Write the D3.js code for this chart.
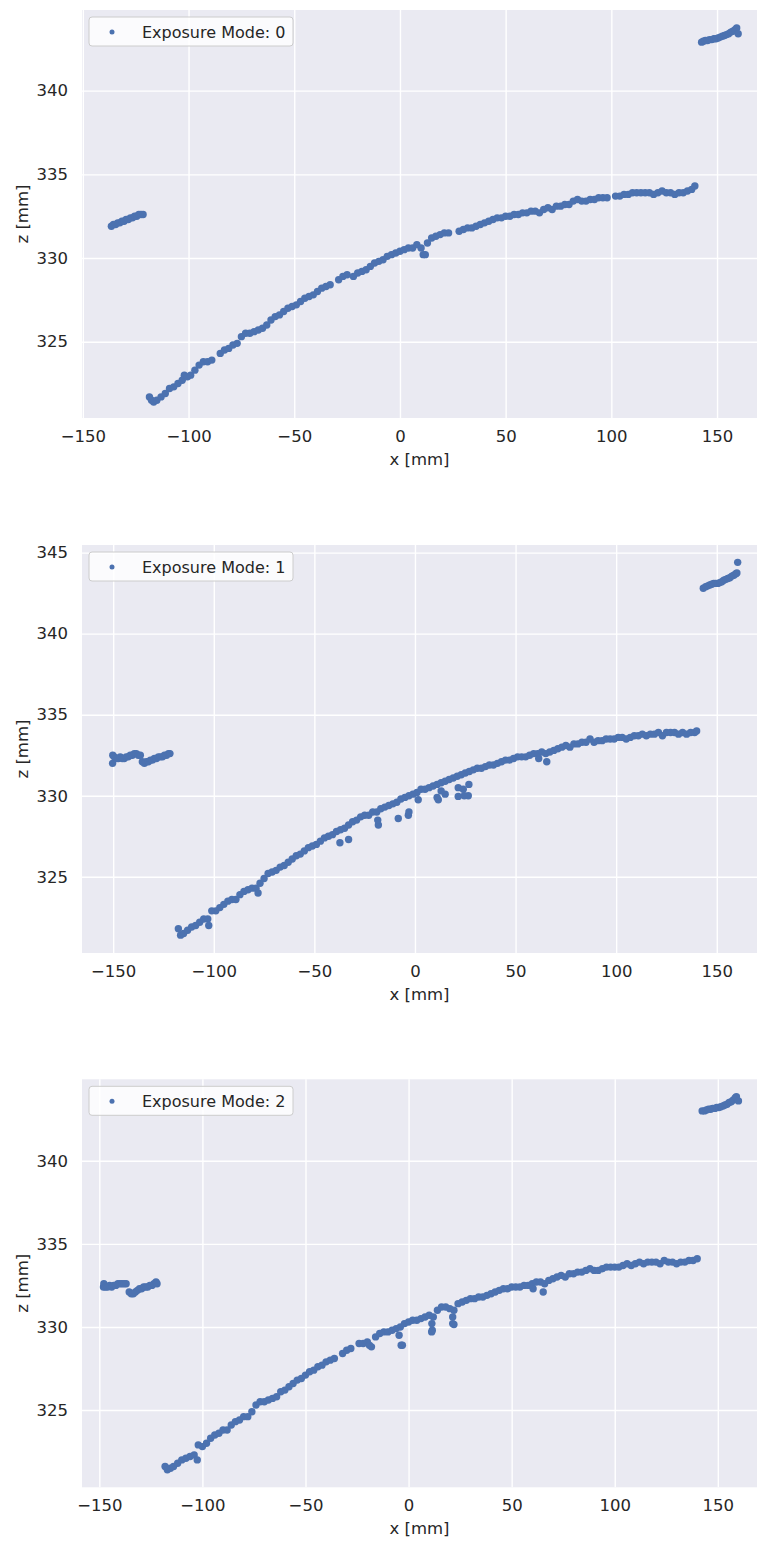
<!DOCTYPE html>
<html>
<head>
<meta charset="utf-8">
<script src="https://cdn.jsdelivr.net/npm/d3@7"></script>
<style>
  body { margin: 0; background: #fff; }
  svg { display: block; font-family: "DejaVu Sans", sans-serif; }
</style>
</head>
<body>
<script>
// DATA (x [mm], z [mm])
const modes = [0, 1, 2];
const xTicks = [-150, -100, -50, 0, 50, 100, 150];
const zTicks = [325, 330, 335, 340, 345];
const xLimits = [[-150.4, 168.9], [-165.5, 170], [-158.4, 169]];
const zLimits = [[320.44, 344.82], [320.3, 345.47], [320.35, 344.9]];

const mode0Left = [[-136.5,331.9],[-135.5,332.0],[-134.5,332.0],[-133.5,332.1],[-132.5,332.1],[-131.5,332.2],[-130.5,332.2],[-129.5,332.3],[-128.5,332.3],[-127.5,332.4],[-126.5,332.4],[-125.5,332.5],[-124.5,332.5],[-123.5,332.6],[-122.5,332.6],[-121.5,332.6]];
const mode0Main = [[-118.5,321.7],[-117.5,321.5],[-116.5,321.4],[-115,321.5],[-113,321.7],[-111,321.9],[-109,322.2],[-107,322.3],[-105,322.5],[-103,322.7],[-102,323.0],[-100.5,322.9],[-99,323.0],[-97,323.3],[-95,323.6],[-93,323.8],[-91,323.8],[-89,323.9],
  [-85,324.3],[-83,324.5],[-81,324.6],[-79,324.8],[-77,324.9],[-75,325.3],[-73,325.5],[-71,325.5],[-69,325.6],[-67,325.7],[-65,325.8],[-63,326.0],[-61,326.3],[-59,326.5],[-57,326.6],[-55,326.8],[-53,327.0],[-51,327.1],[-49,327.2],[-47,327.4],[-45,327.6],[-43,327.7],[-41,327.8],[-39,328.0],[-37,328.2],[-35,328.3],[-33,328.4],
  [-29,328.7],[-27,328.9],[-25,329.0],[-22,328.9],[-20,329.1],[-18,329.2],[-16,329.3],[-14,329.5],[-12,329.7],[-10,329.8],[-8,329.9],[-6,330.1],[-4,330.2],[-2,330.3],[0,330.4],[2,330.5],[4,330.6],[6,330.6],[8,330.8],[10,330.6],[11,330.2],[12,330.2],[13,330.9],[15,331.2],[17,331.3],[19,331.4],[21,331.5],[23,331.5],
  [28,331.6],[30,331.7],[32,331.8],[34,331.8],[36,331.9],[38,332.0],[40,332.1],[42,332.2],[44,332.3],[46,332.4],[48,332.4],[50,332.5],[52,332.5],[54,332.6],[56,332.6],[58,332.7],[60,332.7],[62,332.8],[64,332.8],[66,332.7],[68,332.9],[70,333.0],[72,332.9],[74,333.1],[76,333.1],[78,333.2],[80,333.2],[82,333.4],[84,333.5],[86,333.4],[88,333.4],[90,333.5],[92,333.5],[94,333.6],[96,333.6],[98,333.6],
  [102,333.7],[104,333.7],[106,333.8],[108,333.8],[110,333.9],[112,333.9],[114,333.9],[116,333.9],[118,333.9],[120,333.8],[122,333.9],[124,334.0],[126,333.9],[128,333.9],[130,333.8],[132,333.9],[134,333.9],[136,334.0],[138,334.1],[139.5,334.3]];
const mode0Right = [[142.7,342.9],[143.5,342.95],[144.5,343.0],[145.5,343.0],[146.5,343.05],[147.5,343.05],[148.5,343.1],[149.5,343.1],[150.5,343.15],[151.5,343.2],[152.5,343.25],[153.5,343.3],[154.5,343.35],[155.5,343.4],[156.5,343.5],[157.5,343.55],[158.5,343.65],[159.3,343.75],[160,343.4]];

const mode1Left = [[-150.3,332.0],[-150.2,332.5],[-149.5,332.4],[-148.5,332.3],[-147.5,332.3],[-146.5,332.4],[-145.5,332.3],[-144.5,332.3],[-143.5,332.4],[-142.5,332.4],[-141.5,332.5],[-140.5,332.5],[-139.5,332.6],[-138.5,332.6],[-137.5,332.5],[-136.5,332.5],[-135.5,332.1],[-134.5,332.0],[-133.5,332.1],[-132.5,332.1],[-131.5,332.2],[-130.5,332.2],[-129.5,332.3],[-128.5,332.3],[-127.5,332.4],[-126.5,332.4],[-125.5,332.4],[-124.5,332.5],[-123.5,332.5],[-122.5,332.6],[-121.8,332.6]];
const mode1Main = [[-117.6,321.8],[-116.5,321.4],[-115,321.5],[-113,321.7],[-111,321.9],[-109,322.0],[-107,322.2],[-105,322.4],[-103,322.4],[-102.5,322.0],[-101,322.9],[-99,322.9],[-97,323.1],[-95,323.3],[-93,323.5],[-91,323.6],[-89,323.6],[-87,323.9],[-85,324.1],[-83,324.2],[-81,324.3],[-79,324.3],[-78,324.0],[-77,324.6],[-75,324.9],[-73,325.2],
  [-71,325.3],[-69,325.4],[-67,325.6],[-65,325.7],[-63,325.9],[-61,326.1],[-59,326.3],[-57,326.4],[-55,326.6],[-53,326.8],[-51,326.9],[-49,327.0],[-47,327.2],[-45,327.4],[-43,327.5],[-41,327.6],[-39,327.8],[-37.3,327.1],[-37,327.9],[-35,328.0],[-33,328.2],[-33,327.3],[-31,328.4],[-29,328.5],[-27,328.7],[-25,328.8],[-23,328.8],[-21,329.0],[-19,329.0],[-18.2,328.2],[-18.5,328.5],
  [-17,329.2],[-15,329.3],[-13,329.4],[-11,329.5],[-9,329.6],[-8.3,328.6],[-7,329.8],[-3.3,328.8],[-3,329.0],[-5,329.9],[-3,330.0],[-1,330.1],[1,330.2],[1.6,329.75],[3,330.4],[5,330.4],[7,330.5],[9,330.6],[11,330.7],[11.6,329.75],[11,329.9],[15,330.1],[13,330.3],[13,330.8],[15,330.9],[17,331.0],[19,331.1],[21,331.2],
  [21.5,329.96],[26.5,330.0],[26.8,330.7],[21.5,330.5],[24,330.4],[24.5,330.0],[23,331.3],[25,331.4],[27,331.5],[29,331.6],[31,331.7],[33,331.7],[35,331.8],[37,331.9],[39,331.9],[41,332.0],[43,332.1],[45,332.2],[47,332.2],[49,332.3],[51,332.4],[53,332.4],[55,332.4],[57,332.5],[59,332.6],[61,332.6],[63,332.7],[61.5,332.3],[65.5,332.1],
  [65,332.6],[67,332.7],[69,332.8],[71,332.9],[73,333.0],[75,333.1],[77,333.0],[79,333.2],[81,333.2],[83,333.3],[85,333.3],[87,333.5],[89,333.3],[91,333.4],[93,333.4],[95,333.5],[97,333.5],[99,333.5],[101,333.6],[103,333.6],[105,333.5],[107,333.6],[109,333.7],[111,333.7],[113,333.8],[115,333.7],[117,333.8],[119,333.8],[121,333.9],[123,333.7],[125,333.9],[127,333.9],[129,333.9],[131,333.8],[133,333.9],[135,333.8],[137,333.9],[139,333.9],[140,334.0]];
const mode1Right = [[143.3,342.8],[144.5,342.9],[145.5,342.95],[146.5,343.0],[147.5,343.05],[148.5,343.1],[149.5,343.1],[150.5,343.1],[151.5,343.15],[152.5,343.2],[153.5,343.3],[154.5,343.35],[155.5,343.4],[156.5,343.45],[157.5,343.55],[158.5,343.6],[159.5,343.7],[160,343.75],[160.4,344.4]];

const mode2Left = [[-148,332.4],[-147.8,332.6],[-147,332.4],[-146,332.4],[-145,332.5],[-144,332.4],[-143,332.5],[-142,332.5],[-141,332.6],[-140,332.6],[-139,332.6],[-138,332.6],[-137,332.6],[-135.5,332.1],[-134.5,332.0],[-133.5,332.0],[-132.5,332.1],[-131.5,332.2],[-130.5,332.3],[-129.5,332.3],[-128.5,332.4],[-127.5,332.4],[-126.5,332.4],[-125.5,332.5],[-124.5,332.5],[-123.5,332.6],[-122.5,332.7],[-122,332.6]];
const mode2Main = [[-118.1,321.6],[-117,321.4],[-115.5,321.5],[-114,321.6],[-112,321.8],[-110,322.0],[-108,322.1],[-106,322.2],[-104,322.3],[-102.5,322.0],[-102,322.9],[-100,322.8],[-98,323.0],[-96,323.3],[-94,323.5],[-92,323.6],[-90,323.8],[-88,323.8],[-86,324.1],[-84,324.3],[-82,324.4],[-80,324.6],[-78,324.6],[-76,324.9],[-74,325.3],[-72,325.5],
  [-70,325.5],[-68,325.6],[-66,325.7],[-64,325.8],[-62,326.1],[-60,326.2],[-58,326.4],[-56,326.6],[-54,326.8],[-52,326.9],[-50,327.1],[-48,327.3],[-46,327.4],[-44,327.6],[-42,327.7],[-40,327.9],[-38,328.0],[-36,328.1],[-32,328.4],[-30,328.6],[-28,328.7],[-24,329.0],[-22,329.0],[-20,329.1],[-19,328.9],[-18,328.8],
  [-16,329.4],[-14,329.6],[-12,329.7],[-10,329.7],[-8,329.8],[-6,329.9],[-4.6,329.5],[-3.6,328.9],[-3,328.9],[-4,330.0],[-2,330.2],[0,330.3],[2,330.4],[4,330.4],[6,330.5],[8,330.6],[10,330.7],[11.3,330.2],[11.2,329.7],[11.5,329.8],[12,330.6],[14,331.0],[16,331.2],[18,331.2],[20,331.1],[21.4,330.6],[21.4,330.2],[22,330.15],
  [22,331.0],[24,331.4],[26,331.5],[28,331.6],[30,331.7],[32,331.7],[34,331.8],[36,331.8],[38,331.9],[40,332.0],[42,332.1],[44,332.2],[46,332.3],[48,332.3],[50,332.4],[52,332.4],[54,332.4],[56,332.5],[58,332.5],[60,332.6],[60.4,332.3],[65.3,332.1],[62,332.7],[64,332.7],[66,332.6],[68,332.8],[70,332.9],[72,333.0],[74,333.1],[76,333.0],[78,333.2],[80,333.2],
  [82,333.3],[84,333.3],[86,333.4],[88,333.5],[90,333.4],[92,333.4],[94,333.5],[96,333.6],[98,333.6],[100,333.6],[102,333.6],[104,333.7],[106,333.8],[108,333.7],[110,333.8],[112,333.9],[114,333.8],[116,333.9],[118,333.9],[120,333.9],[122,333.8],[124,334.0],[126,333.9],[128,333.9],[130,333.8],[132,333.9],[134,333.9],[136,334.0],[138,334.0],[140,334.1]];
const mode2Right = [[142.4,343.0],[143.5,343.0],[144.5,343.05],[145.5,343.1],[146.5,343.1],[147.5,343.15],[148.5,343.15],[149.5,343.2],[150.5,343.2],[151.5,343.25],[152.5,343.3],[153.5,343.35],[154.5,343.4],[155.5,343.5],[156.5,343.55],[157.5,343.65],[158.5,343.8],[159,343.85],[160,343.6]];

const modePoints = [
  mode0Left.concat(mode0Main, mode0Right),
  mode1Left.concat(mode1Main, mode1Right),
  mode2Left.concat(mode2Main, mode2Right)
];

// LAYOUT
const WIDTH = 757;
const HEIGHT = 1542;
const LEFT = 82;
const RIGHT = 757;
const PANEL_HEIGHT = 408;
const PANEL_TOPS = [10, 545, 1079.3];
const BLUE = '#4c72b0';
const TEXT = '#262626';

const svg = d3.select('body')
  .append('svg')
  .attr('width', WIDTH)
  .attr('height', HEIGHT);

modes.forEach(function(mode, i) {
  const top = PANEL_TOPS[i];
  const bottom = top + PANEL_HEIGHT;

  const x = d3.scaleLinear().domain(xLimits[i]).range([LEFT, RIGHT]);
  const y = d3.scaleLinear().domain(zLimits[i]).range([bottom, top]);

  const g = svg.append('g');

  // background
  g.append('rect')
    .attr('x', LEFT)
    .attr('y', top)
    .attr('width', RIGHT - LEFT)
    .attr('height', PANEL_HEIGHT)
    .attr('fill', '#eaeaf2');

  const xt = xTicks.filter(function(t) { return t >= xLimits[i][0] && t <= xLimits[i][1]; });
  const zt = zTicks.filter(function(t) { return t >= zLimits[i][0] && t <= zLimits[i][1]; });

  // grid + tick labels via axes
  const xAxis = d3.axisBottom(x)
    .tickValues(xt)
    .tickSize(-PANEL_HEIGHT)
    .tickPadding(12)
    .tickFormat(function(d) { return d < 0 ? '\u2212' + Math.abs(d) : d; });

  const yAxis = d3.axisLeft(y)
    .tickValues(zt)
    .tickSize(-(RIGHT - LEFT))
    .tickPadding(14);

  g.append('g')
    .attr('transform', 'translate(0,' + bottom + ')')
    .call(xAxis)
    .call(function(a) {
      a.select('.domain').remove();
      a.selectAll('line').attr('stroke', '#fff').attr('stroke-width', 1.4);
      a.selectAll('text').attr('fill', TEXT).attr('font-size', '16.5px').attr('font-family', '"DejaVu Sans", sans-serif');
    });

  g.append('g')
    .attr('transform', 'translate(' + LEFT + ',0)')
    .call(yAxis)
    .call(function(a) {
      a.select('.domain').remove();
      a.selectAll('line').attr('stroke', '#fff').attr('stroke-width', 1.4);
      a.selectAll('text').attr('fill', TEXT).attr('font-size', '16.5px').attr('font-family', '"DejaVu Sans", sans-serif');
    });

  // points
  g.append('g')
    .selectAll('circle')
    .data(modePoints[i])
    .enter()
    .append('circle')
    .attr('cx', function(d) { return x(d[0]); })
    .attr('cy', function(d) { return y(d[1]); })
    .attr('r', 3.7)
    .attr('fill', BLUE);

  // axis labels
  g.append('text')
    .attr('x', (LEFT + RIGHT) / 2)
    .attr('y', bottom + 47)
    .attr('text-anchor', 'middle')
    .attr('fill', TEXT)
    .attr('font-size', '16.5px')
    .text('x [mm]');

  g.append('text')
    .attr('transform', 'translate(28,' + (top + PANEL_HEIGHT / 2) + ') rotate(-90)')
    .attr('text-anchor', 'middle')
    .attr('fill', TEXT)
    .attr('font-size', '16.5px')
    .text('z [mm]');

  // legend
  const lg = g.append('g').attr('transform', 'translate(89,' + (top + 7) + ')');
  lg.append('rect')
    .attr('width', 204)
    .attr('height', 29)
    .attr('rx', 3)
    .attr('fill', '#fff')
    .attr('fill-opacity', 0.8)
    .attr('stroke', '#cccccc')
    .attr('stroke-width', 1);
  lg.append('circle')
    .attr('cx', 23)
    .attr('cy', 15)
    .attr('r', 2.5)
    .attr('fill', BLUE);
  lg.append('text')
    .attr('x', 53)
    .attr('y', 20.5)
    .attr('fill', TEXT)
    .attr('font-size', '16px')
    .text('Exposure Mode: ' + mode);
});
</script>
</body>
</html>
